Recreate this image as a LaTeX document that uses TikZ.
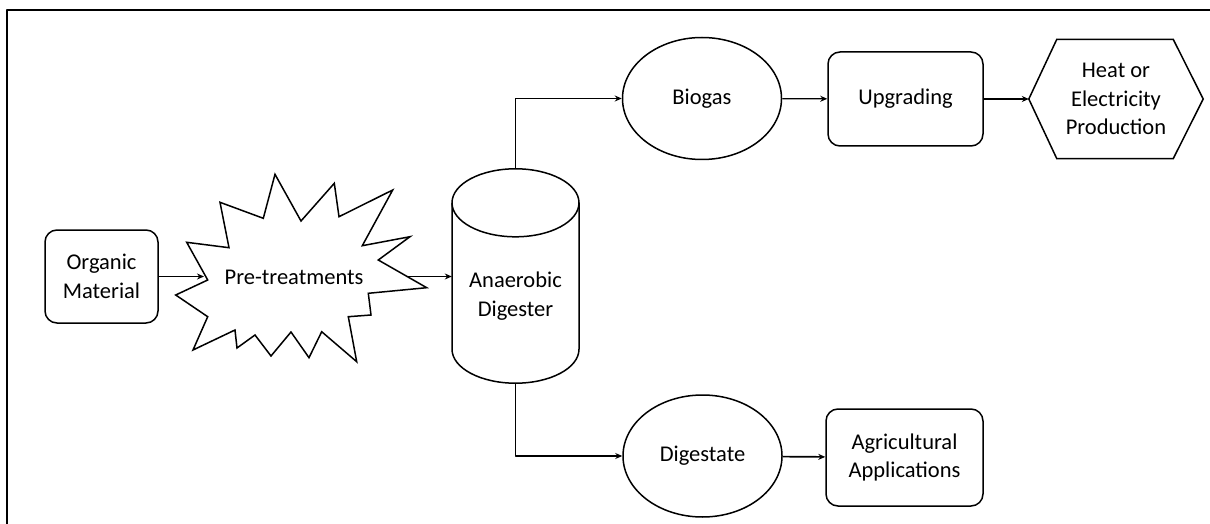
\documentclass[tikz,border=0pt]{standalone}
\usepackage{fontspec}
\setmainfont{Carlito}
\usepackage{tikz}
\usetikzlibrary{arrows.meta, shapes, positioning}
\usepackage{xcolor}
\tikzset{roundbox/.style={rectangle, rounded corners=12pt, draw=black, line width=1.5pt, align=center},ovalnode/.style={ellipse, draw=black, line width=1.5pt, minimum width=159pt, minimum height=122pt}}
\tikzset{shapeline/.style={draw=black, line width=1.5pt, line join=miter},flowarrow/.style={-{Stealth[length=7pt, width=6pt]}, line width=1.2pt}}

\begin{document}
\begin{tikzpicture}[
        line join=bevel,
        every node/.style={font=\fontsize{22.5}{28.5}\selectfont, align=center},
        hiddenbox/.style={rectangle, draw=none, inner sep=0pt},
    ]
        \useasboundingbox (0pt, 0pt) rectangle (1210pt, 523pt);
        % Frame
        \draw[line width=2.4pt] (7pt, -2pt) -- (7pt, 513pt) -- (1212pt, 513pt);
        % Boxes
        \node[roundbox, minimum width=113pt, minimum height=93pt] (organic) at (101.5pt, 246.5pt) {Organic\\Material};
        \node (pretreat) at (294pt, 246pt) {Pre-treatments};
        \node[hiddenbox, minimum width=127pt, minimum height=214pt] (digester) at (515.5pt, 247pt) {};
        \node (digesterlabel) at (515.5pt, 227pt) {Anaerobic\\Digester};
        \node[ovalnode] (biogas) at (702pt, 424.5pt) {Biogas};
        \node[roundbox, minimum width=155pt, minimum height=94pt] (upgrading) at (905.5pt, 424pt) {Upgrading};
        \node[hiddenbox, minimum width=174pt, minimum height=119pt] (heat) at (1116pt, 424pt) {Heat or\\Electricity\\Production};
        \node[ovalnode] (digestate) at (702.5pt, 67pt) {Digestate};
        \node[roundbox, minimum width=157pt, minimum height=97pt] (agri) at (904.5pt, 65.5pt) {Agricultural\\Applications};
        % Star
        \draw[shapeline] (275pt, 348.7pt) -- (301pt, 302pt) -- (334.3pt, 339.7pt) -- (339pt, 306.3pt) -- (392.7pt, 333pt) -- (362.3pt, 277.3pt) -- (410pt, 286.3pt) -- (378.3pt, 263pt) -- (426.7pt, 235.3pt) -- (368.3pt, 229.7pt) -- (371pt, 208pt) -- (348.3pt, 206.3pt) -- (356.7pt, 161.3pt) -- (321.7pt, 191.3pt) -- (309pt, 165.3pt) -- (291pt, 191pt) -- (271pt, 167pt) -- (255pt, 188pt) -- (237pt, 175pt) -- (235pt, 193pt) -- (193pt, 173pt) -- (207.7pt, 206.3pt) -- (175.7pt, 228pt) -- (207.7pt, 243pt) -- (186.7pt, 280.7pt) -- (229pt, 275.3pt) -- (220pt, 320.7pt) -- (263.3pt, 304.7pt) -- cycle;
        \coordinate (pre in) at (204pt, 246.5pt);
        \coordinate (pre out) at (407pt, 246.5pt);
        % Cylinder
        \draw[shapeline] ([yshift=-34pt]digester.north) ellipse (63.5pt and 34pt);
        \draw[shapeline] ([shift={(-63.5pt,-34pt)}]digester.north) -- ([shift={(-63.5pt,34pt)}]digester.south) arc (180:360:63.5pt and 34pt) -- ([shift={(63.5pt,-34pt)}]digester.north);
        % Hexagon
        \draw[shapeline] (heat.west) -- ([xshift=28pt]heat.north west) -- ([xshift=-30pt]heat.north east) -- (heat.east) -- ([xshift=-30pt]heat.south east) -- ([xshift=28pt]heat.south west) -- cycle;
        % Arrows
        \draw[flowarrow] (organic) -- (pre in);
        \draw[flowarrow] (pre out) -- (pre out -| digester.west);
        \draw[flowarrow] (digester.north) |- (biogas.west);
        \draw[flowarrow] (biogas) -- (upgrading);
        \draw[flowarrow] (upgrading) -- (heat.west);
        \draw[flowarrow] (digester.south) |- (digestate.west);
        \draw[flowarrow, line width=1.7pt] (digestate) -- (agri);
    \end{tikzpicture}
\end{document}
